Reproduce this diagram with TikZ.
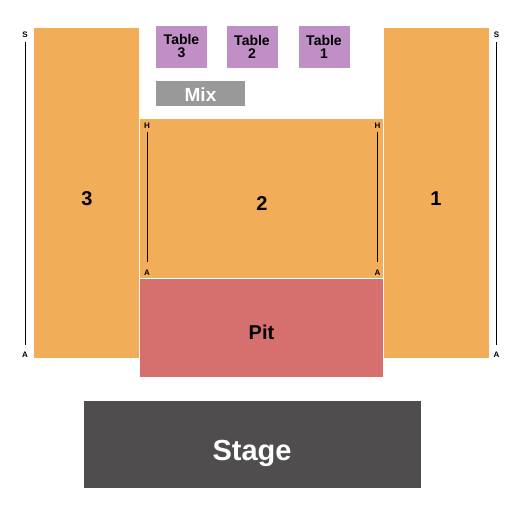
\documentclass[tikz,border=0pt]{standalone}
\usepackage{fontspec}
\setmainfont{Liberation Sans}
\usepackage{tikz}
\usetikzlibrary{positioning}
\definecolor{seatorange}{HTML}{F2AD58}
\definecolor{pitred}{HTML}{D6706E}
\definecolor{tablepurple}{HTML}{BF8FC5}
\definecolor{mixgrey}{HTML}{999999}
\definecolor{stagegrey}{HTML}{4F4D4E}
\tikzset{
  rowlbl/.style={font=\bfseries\fontsize{8}{8}\selectfont, inner sep=0pt, anchor=base},
  rowline/.style={line width=1pt, shorten <=4pt, shorten >=7pt},
  seclbl/.style={font=\bfseries\fontsize{20}{20}\selectfont, inner sep=0pt, anchor=base},
  tablebox/.style={fill=tablepurple, minimum width=51pt, minimum height=42pt, inner sep=0pt,
    align=center, font=\bfseries\fontsize{14}{14}\selectfont}
}
\begin{document}
\begin{tikzpicture}[x=1pt,y=-1pt]
\useasboundingbox (0,0) rectangle (525,525);
\fill[seatorange] (34,28) rectangle (139,357.5);
\fill[seatorange] (140,119) rectangle (383,278);
\fill[pitred] (140,279) rectangle (383,376.5);
\fill[seatorange] (384,28) rectangle (489,357.5);
\fill[stagegrey] (84,401) rectangle (420.5,488);
\fill[mixgrey] (156,81) rectangle (245,105.5);
% tables
\node[tablebox] (t3) at (181.5,46.5) {Table\\[-1pt]3};
\node[tablebox] (t2) at (252,46.5) {Table\\[-1pt]2};
\node[tablebox] (t1) at (324,46.5) {Table\\[-1pt]1};
\node[font=\bfseries\fontsize{19}{19}\selectfont, text=white, inner sep=0pt, anchor=base] (mix) at (200.5,101) {Mix};
% section labels
\node[seclbl] (sec3) at (87,205) {3};
\node[seclbl] (sec2) at (262,210) {2};
\node[seclbl] (sec1) at (436,205) {1};
\node[seclbl] (pit) at (261.5,339) {Pit};
\node[font=\bfseries\fontsize{29}{29}\selectfont, text=white, inner sep=0pt, anchor=base] (stage) at (252,460) {Stage};
% rows
\node[rowlbl] (lS) at (25,37.5) {S};
\node[rowlbl] (lA) at (25,357.5) {A};
\node[rowlbl] (rS) at (496.5,37.5) {S};
\node[rowlbl] (rA) at (496.5,357.5) {A};
\node[rowlbl] (cH) at (147,128) {H};
\node[rowlbl] (cA) at (147,275) {A};
\node[rowlbl] (dH) at (377.5,128) {H};
\node[rowlbl] (dA) at (377.5,275) {A};
\draw[rowline] (lS) -- (lA);
\draw[rowline] (rS) -- (rA);
\draw[rowline] (cH) -- (cA);
\draw[rowline] (dH) -- (dA);
\end{tikzpicture}
\end{document}
